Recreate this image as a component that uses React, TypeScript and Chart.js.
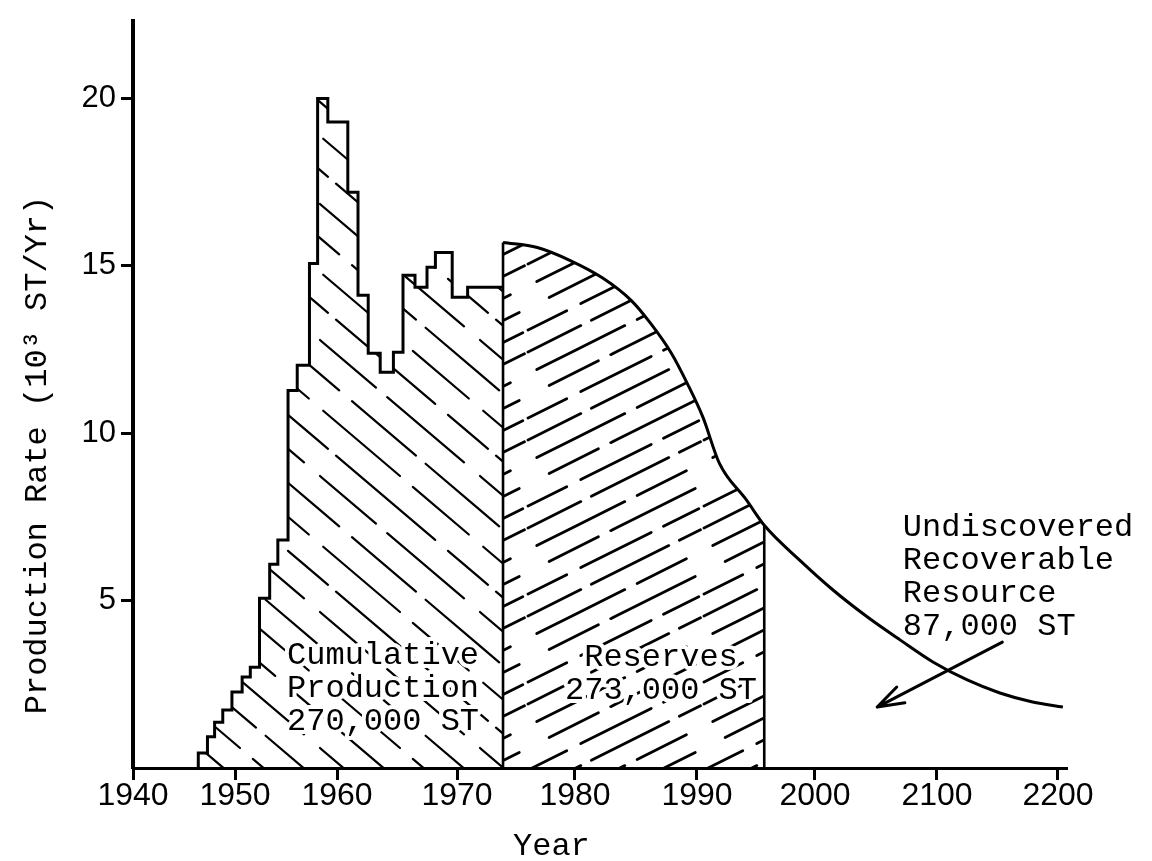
import React, { useEffect, useRef } from 'react';
import { Chart, LinearScale, registerables } from 'chart.js';

Chart.register(...registerables);

// ---------- data ----------
const xTickValues = [1940, 1950, 1960, 1970, 1980, 1990, 2000, 2010, 2020];
const xTickLabels = ['1940', '1950', '1960', '1970', '1980', '1990', '2000', '2100', '2200'];
const yTickValues = [5, 10, 15, 20];
const yTickLabels = ['5', '10', '15', '20'];

// historical production (step starts, thousand ST / yr)
const productionYears = [
  1946.4, 1947.3, 1948.0, 1948.8, 1949.7, 1950.7, 1951.5, 1952.4, 1953.4, 1954.2,
  1955.2, 1956.1, 1957.3, 1958.1, 1959.1, 1960.9, 1961.75, 1962.6, 1963.6, 1964.7,
  1965.5, 1966.5, 1967.5, 1968.2, 1969.6, 1970.9, 1972.2,
];
const productionValues = [
  0.3, 0.45, 0.93, 1.37, 1.73, 2.27, 2.72, 3.01, 5.07, 6.09,
  6.81, 11.28, 12.03, 15.07, 20.0, 19.3, 17.2, 14.12, 12.39, 11.82,
  12.42, 14.72, 14.36, 14.96, 15.4, 14.06, 14.36,
];
const productionEndYear = 1973.9;

// projected production curve
const curveYears = [
  1973.9, 1976.8, 1979.6, 1982.3, 1984.6, 1986.2, 1987.9, 1989.2, 1990.5, 1991.9,
  1994.2, 1995.7, 1998.7, 2001.5, 2004.3, 2007.0, 2009.7, 2012.5, 2015.2, 2017.9, 2020.4,
];
const curveValues = [
  15.7, 15.55, 15.16, 14.63, 13.97, 13.28, 12.39, 11.49, 10.48, 9.1,
  8.0, 7.25, 6.21, 5.31, 4.51, 3.82, 3.16, 2.63, 2.24, 1.97, 1.82,
];
const reservesEndYear = 1995.7;

const cumulativeLines = ['Cumulative', 'Production', '270,000 ST'];
const reservesLines = ['Reserves', '273,000 ST'];
const undiscoveredLines = ['Undiscovered', 'Recoverable', 'Resource', '87,000 ST'];

const arrowFrom = { x: 2015.4, y: 3.76 };
const arrowTo = { x: 2005.1, y: 1.82 };

// ---------- hand-drawn (irregular) x axis spacing ----------
const xAxisStops = [1940, 1950, 1960, 1970, 1980, 1990, 2000, 2010, 2020, 2020.74];
const xAxisFractions = [0, 0.10921, 0.21842, 0.3469, 0.47323, 0.60385, 0.73019, 0.86081, 0.99036, 1];

function warp(v: number, a: number[], b: number[]): number {
  const n = a.length - 1;
  if (v <= a[0]) return b[0] + ((v - a[0]) * (b[1] - b[0])) / (a[1] - a[0]);
  for (let i = 1; i <= n; i++) {
    if (v <= a[i]) return b[i - 1] + ((v - a[i - 1]) * (b[i] - b[i - 1])) / (a[i] - a[i - 1]);
  }
  return b[n] + ((v - a[n]) * (b[n] - b[n - 1])) / (a[n] - a[n - 1]);
}

class WarpedScale extends LinearScale {
  static id = 'warped';
  static defaults = LinearScale.defaults;
  getPixelForValue(value: number) {
    return this.getPixelForDecimal(warp(value, xAxisStops, xAxisFractions));
  }
  getValueForPixel(pixel: number) {
    return warp(this.getDecimalForPixel(pixel), xAxisFractions, xAxisStops);
  }
}
Chart.register(WarpedScale as any);

// ---------- hatching ----------
type HLine = { start: [number, number]; dir: [number, number]; dashes: [number, number][] };
function hatch(w: number, h: number, lw: number, lines: HLine[]) {
  const c = document.createElement('canvas');
  c.width = w;
  c.height = h;
  const g = c.getContext('2d')!;
  g.strokeStyle = '#000';
  g.lineWidth = lw;
  g.lineCap = 'round';
  for (const L of lines)
    for (const [t0, t1] of L.dashes)
      for (const dx of [-w, 0, w])
        for (const dy of [-h, 0, h]) {
          g.beginPath();
          g.moveTo(L.start[0] + L.dir[0] * t0 + dx, L.start[1] + L.dir[1] * t0 + dy);
          g.lineTo(L.start[0] + L.dir[0] * t1 + dx, L.start[1] + L.dir[1] * t1 + dy);
          g.stroke();
        }
  return g.createPattern(c, 'repeat')!;
}

const MONO = '"Liberation Mono", "DejaVu Sans Mono", monospace';
const TEXT_SIZE = 32;
const LINE_H = 33;

const annotationPlugin = {
  id: 'annotations',
  afterDraw(chart: any) {
    const { ctx } = chart;
    const x = chart.scales.x;
    const y = chart.scales.y;
    ctx.save();
    ctx.font = `${TEXT_SIZE}px ${MONO}`;
    ctx.textBaseline = 'middle';
    const blocks = [
      { lines: cumulativeLines, x: 1955.1, y: 3.37, align: 'left', halo: true },
      { lines: reservesLines, x: 1987.05, y: 3.31, align: 'center', halo: true },
      { lines: undiscoveredLines, x: 2007.2, y: 7.19, align: 'left', halo: false },
    ];
    for (const b of blocks) {
      ctx.textAlign = b.align;
      const px = x.getPixelForValue(b.x);
      const py = y.getPixelForValue(b.y);
      b.lines.forEach((t: string, i: number) => {
        if (b.halo) {
          ctx.strokeStyle = '#fff';
          ctx.lineWidth = 8;
          ctx.lineJoin = 'round';
          ctx.strokeText(t, px, py + i * LINE_H);
        }
        ctx.fillStyle = '#000';
        ctx.fillText(t, px, py + i * LINE_H);
      });
    }

    // arrow
    const x0 = x.getPixelForValue(arrowFrom.x);
    const y0 = y.getPixelForValue(arrowFrom.y);
    const x1 = x.getPixelForValue(arrowTo.x);
    const y1 = y.getPixelForValue(arrowTo.y);
    ctx.strokeStyle = '#000';
    ctx.lineWidth = 3;
    ctx.lineCap = 'round';
    ctx.beginPath();
    ctx.moveTo(x0, y0);
    ctx.lineTo(x1, y1);
    const ang = Math.atan2(y0 - y1, x0 - x1);
    for (const s of [-0.32, 0.32]) {
      ctx.moveTo(x1, y1);
      ctx.lineTo(x1 + 28 * Math.cos(ang + s), y1 + 28 * Math.sin(ang + s));
    }
    ctx.stroke();

    // axis titles
    ctx.fillStyle = '#000';
    ctx.textAlign = 'center';
    ctx.fillText('Year', x.getPixelForValue(1978), 847);
    ctx.translate(38, 455);
    ctx.rotate(-Math.PI / 2);
    ctx.fillText('Production Rate (10³ ST/Yr)', 0, 0);
    ctx.restore();
  },
};

export default function App() {
  const ref = useRef<HTMLCanvasElement>(null);
  useEffect(() => {
    const prodPattern = hatch(160, 136, 2.2, [
      { start: [0, 0], dir: [160, 136], dashes: [[0.02, 0.5], [0.58, 0.93]] },
      { start: [0, 34], dir: [160, 136], dashes: [[0.1, 0.72], [0.8, 1.05]] },
      { start: [0, 68], dir: [160, 136], dashes: [[0.0, 0.35], [0.42, 0.9]] },
      { start: [0, 102], dir: [160, 136], dashes: [[0.2, 0.6], [0.66, 1.12]] },
    ]);
    const resPattern = hatch(176, 88, 2.8, [
      { start: [0, 0], dir: [176, -88], dashes: [[0.0, 0.3], [0.36, 0.8], [0.86, 0.98]] },
      { start: [0, 22], dir: [176, -88], dashes: [[0.05, 0.55], [0.62, 0.9]] },
      { start: [0, 44], dir: [176, -88], dashes: [[0.12, 0.4], [0.47, 0.95]] },
      { start: [0, 66], dir: [176, -88], dashes: [[0.0, 0.22], [0.3, 0.7], [0.77, 0.97]] },
    ]);

    const prodPoints = [
      { x: productionYears[0], y: 0 },
      ...productionYears.map((yr, i) => ({ x: yr, y: productionValues[i] })),
      { x: productionEndYear, y: productionValues[productionValues.length - 1] },
    ];
    const curvePoints = curveYears.map((yr, i) => ({ x: yr, y: curveValues[i] }));
    const reservePoints = curvePoints.filter((p) => p.x <= reservesEndYear + 1e-6);
    const startTop = curveValues[0];
    const endTop = curveValues[curveYears.indexOf(reservesEndYear)];

    const chart = new Chart(ref.current!, {
      type: 'line',
      data: {
        datasets: [
          {
            data: prodPoints,
            stepped: 'after',
            borderColor: '#000',
            borderWidth: 3,
            pointRadius: 0,
            fill: 'origin',
            backgroundColor: prodPattern,
          } as any,
          {
            data: reservePoints,
            cubicInterpolationMode: 'monotone',
            borderWidth: 0,
            borderColor: 'rgba(0,0,0,0)',
            pointRadius: 0,
            fill: 'origin',
            backgroundColor: resPattern,
          },
          {
            data: curvePoints,
            cubicInterpolationMode: 'monotone',
            borderColor: '#000',
            borderWidth: 3,
            pointRadius: 0,
            fill: false,
          },
          {
            data: [{ x: productionEndYear, y: 0 }, { x: productionEndYear, y: startTop }],
            borderColor: '#000',
            borderWidth: 2.6,
            pointRadius: 0,
            fill: false,
          },
          {
            data: [{ x: reservesEndYear, y: 0 }, { x: reservesEndYear, y: endTop }],
            borderColor: '#000',
            borderWidth: 2.6,
            pointRadius: 0,
            fill: false,
          },
        ],
      },
      options: {
        responsive: false,
        animation: false,
        devicePixelRatio: 1,
        layout: { padding: { top: 20, right: 85, left: 0, bottom: 0 } },
        plugins: { legend: { display: false }, tooltip: { enabled: false } },
        scales: {
          x: {
            type: 'warped' as any,
            position: 'bottom',
            min: 1940,
            max: 2020.74,
            afterBuildTicks: (s: any) => {
              s.ticks = xTickValues.map((v) => ({ value: v }));
            },
            afterFit: (s: any) => {
              s.height = 93;
            },
            grid: { drawOnChartArea: false, drawTicks: true, tickLength: 12, tickWidth: 3, tickColor: '#000' },
            border: { display: true, color: '#000', width: 3 },
            ticks: {
              autoSkip: false,
              maxRotation: 0,
              padding: 0,
              color: '#000',
              font: { family: '"Liberation Sans", Arial, sans-serif', size: 32, lineHeight: 1 },
              callback: (_v: any, i: number) => xTickLabels[i],
            },
          },
          y: {
            type: 'linear',
            min: 0,
            max: 22.33,
            afterBuildTicks: (s: any) => {
              s.ticks = yTickValues.map((v) => ({ value: v }));
            },
            afterFit: (s: any) => {
              s.width = 133;
            },
            grid: { drawOnChartArea: false, drawTicks: true, tickLength: 12, tickWidth: 3, tickColor: '#000' },
            border: { display: true, color: '#000', width: 4 },
            ticks: {
              autoSkip: false,
              padding: 5,
              color: '#000',
              font: { family: '"Liberation Sans", Arial, sans-serif', size: 31, lineHeight: 1 },
              callback: (_v: any, i: number) => yTickLabels[i],
            },
          },
        },
      } as any,
      plugins: [annotationPlugin],
    });
    return () => chart.destroy();
  }, []);

  return (
    <div style={{ position: 'fixed', left: 0, top: 0, width: 1152, height: 861, background: '#fff' }}>
      <canvas ref={ref} width={1152} height={861} style={{ width: 1152, height: 861 }} />
    </div>
  );
}
